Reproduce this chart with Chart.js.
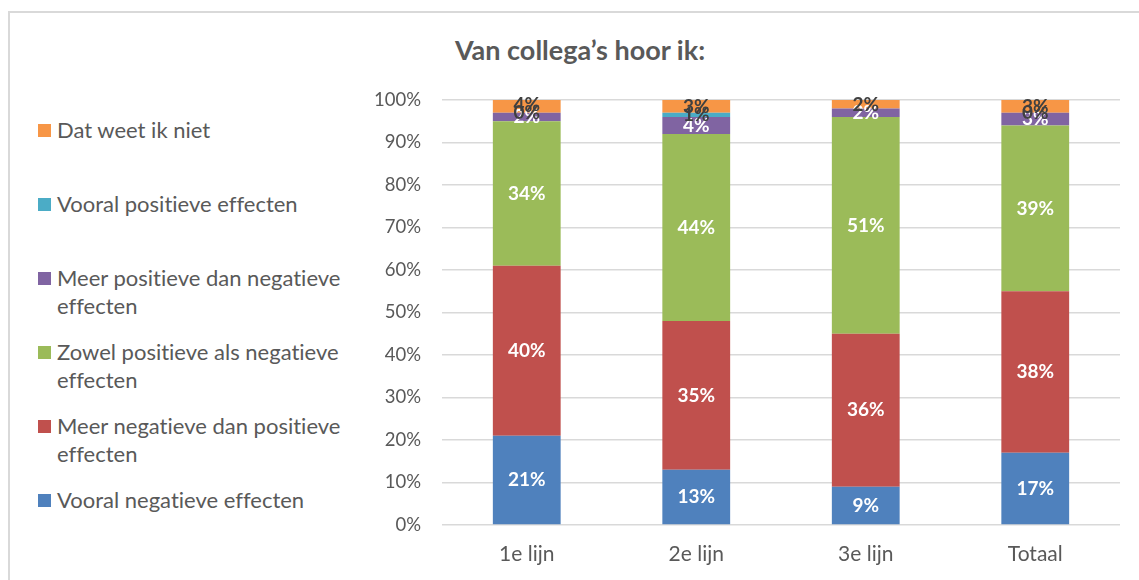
<!DOCTYPE html>
<html lang="nl">
<head>
  <meta charset="UTF-8">
  <title>Van collega's hoor ik</title>
  <script src="https://cdn.jsdelivr.net/npm/chart.js"></script>
  <style>
    html, body { margin: 0; padding: 0; background: #fff; overflow: hidden; }
    body { width: 1139px; height: 580px; position: relative; font-family: Lato, "Open Sans", sans-serif; font-variant-ligatures: none; }
    .kader { position: absolute; left: 8px; top: 11px; width: 1300px; height: 800px; border-left: 2px solid #d9d9d9; border-top: 2px solid #d9d9d9; }
    #titel { position: absolute; left: 330px; width: 500px; top: 33px; text-align: center; font-weight: bold; font-size: 27px; color: #595959; }
    #legenda { position: absolute; left: 38px; top: 116px; width: 330px; }
    .item { height: 74px; display: flex; align-items: flex-start; }
    .blokje { width: 13px; height: 13px; margin-top: 8px; margin-right: 6px; flex: none; }
    .tekst { font-size: 22px; line-height: 28px; color: #595959; width: 300px; }
    #wrap { position: absolute; left: 0; top: 0; width: 1139px; height: 580px; }
  </style>
</head>
<body>
  <div class="kader"></div>
  <div id="titel">Van collega’s hoor ik:</div>
  <div id="legenda"></div>
  <div id="wrap"><canvas id="grafiek"></canvas></div>

  <script>
    const categorieen = ["1e lijn", "2e lijn", "3e lijn", "Totaal"];
    const vooralNegatief = [21, 13, 9, 17];
    const meerNegatief = [40, 35, 36, 38];
    const zowel = [34, 44, 51, 39];
    const meerPositief = [2, 4, 2, 3];
    const vooralPositief = [0, 1, null, 0];
    const weetNiet = [4, 3, 2, 3];
    const yTicks = [0, 10, 20, 30, 40, 50, 60, 70, 80, 90, 100];

    const grijs = "#595959";

    const reeksen = [
      { label: "Vooral negatieve effecten", data: vooralNegatief, backgroundColor: "#4f81bd", tekstKleur: "#fff" },
      { label: "Meer negatieve dan positieve effecten", data: meerNegatief, backgroundColor: "#c0504d", tekstKleur: "#fff" },
      { label: "Zowel positieve als negatieve effecten", data: zowel, backgroundColor: "#9bbb59", tekstKleur: "#fff" },
      { label: "Meer positieve dan negatieve effecten", data: meerPositief, backgroundColor: "#8064a2", tekstKleur: "#fff" },
      { label: "Vooral positieve effecten", data: vooralPositief, backgroundColor: "#4bacc6", tekstKleur: "#404040" },
      { label: "Dat weet ik niet", data: weetNiet, backgroundColor: "#f79646", tekstKleur: "#404040" }
    ];

    // labels in de balken
    const waardeLabels = {
      id: "waardeLabels",
      afterDatasetsDraw(chart) {
        const ctx = chart.ctx;
        ctx.save();
        ctx.font = "bold 19px Lato, 'Open Sans', sans-serif";
        ctx.textAlign = "center";
        ctx.textBaseline = "middle";
        chart.data.datasets.forEach((ds, i) => {
          const meta = chart.getDatasetMeta(i);
          meta.data.forEach((bar, j) => {
            const v = ds.data[j];
            if (v === null || v === undefined) return;
            const y = (bar.y + bar.base) / 2;
            ctx.fillStyle = ds.tekstKleur;
            ctx.fillText(v + "%", bar.x, Math.max(y, 105));
          });
        });
        ctx.restore();
      }
    };

    const grafiek = new Chart(document.getElementById("grafiek"), {
      type: "bar",
      data: {
        labels: categorieen,
        datasets: reeksen.map(r => ({
          label: r.label,
          data: r.data,
          backgroundColor: r.backgroundColor,
          tekstKleur: r.tekstKleur,
          barPercentage: 0.4,
          categoryPercentage: 1,
          borderWidth: 0
        }))
      },
      options: {
        responsive: true,
        maintainAspectRatio: false,
        animation: false,
        layout: { padding: { left: 360, right: 19, top: 100, bottom: 0 } },
        plugins: {
          legend: { display: false },
          title: { display: false },
          tooltip: { enabled: false }
        },
        scales: {
          x: {
            stacked: true,
            grid: { display: false, drawTicks: false },
            border: { display: false },
            ticks: { color: grijs, font: { size: 21, family: "Lato" }, padding: 17 },
            afterFit(s) { s.height = 55; }
          },
          y: {
            stacked: true,
            min: 0,
            max: 100,
            afterBuildTicks(s) { s.ticks = yTicks.map(v => ({ value: v })); },
            grid: { color: "#d9d9d9", lineWidth: 1.5, drawTicks: false },
            border: { display: false },
            ticks: { color: grijs, font: { size: 18.5, family: "Lato" }, padding: 21, callback: v => v + "%" },
            afterFit(s) { s.width = 82; }
          }
        }
      },
      plugins: [waardeLabels]
    });

    // legenda, bovenste reeks eerst
    const legenda = document.getElementById("legenda");
    grafiek.data.datasets.slice().reverse().forEach(ds => {
      const item = document.createElement("div");
      item.className = "item";
      item.innerHTML = `<span class="blokje" style="background:${ds.backgroundColor}"></span><span class="tekst">${ds.label}</span>`;
      legenda.appendChild(item);
    });
  </script>
</body>
</html>
